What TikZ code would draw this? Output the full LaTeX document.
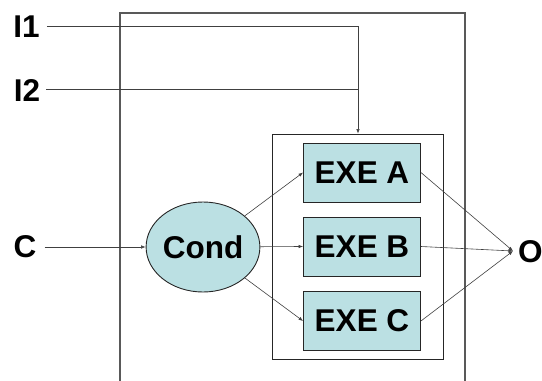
\documentclass[tikz,border=0pt]{standalone}
\usepackage{fontspec}
\setmainfont{Liberation Sans}
\usetikzlibrary{arrows.meta,shapes.geometric}
\definecolor{boxfill}{RGB}{187,224,227}
\begin{document}
\begin{tikzpicture}[x=1pt,y=-1pt,
  bigtext/.style={font=\bfseries\fontsize{31.5}{32}\selectfont},
  lbl/.style={bigtext, inner sep=0pt},
  exebox/.style={bigtext, draw=black!85, line width=0.9pt, fill=boxfill, minimum width=117pt, minimum height=59pt, inner sep=0pt},
  condnode/.style={bigtext, ellipse, draw=black!85, line width=0.9pt, fill=boxfill, minimum width=112pt, minimum height=90pt, inner sep=0pt},
  wire/.style={draw=black!75, line width=0.6pt},
  arr/.style={wire, -{Latex[length=4.5pt,width=3.5pt]}}
]
\useasboundingbox (0,0) rectangle (542,381);

% outer frame, open at the bottom
\draw[draw=black!65, line width=1.1pt] (120,381) -- (120,13) -- (465,13) -- (465,381);

% group box around the executors
\node[draw=black!85, line width=0.9pt, minimum width=171pt, minimum height=225pt, inner sep=0pt] (grp) at (357.5,246.5) {};

% executors and condition
\node[exebox] (A) at (362,172.5) {EXE A};
\node[exebox] (B) at (362,246.5) {EXE B};
\node[exebox] (Cx) at (362,321) {EXE C};
\node[condnode] (cond) at (203,247) {Cond};

% inputs and output labels
\node[lbl] (i1) at (26.5,27) {I1};
\node[lbl] (i2) at (27,90) {I2};
\node[lbl] (c) at (25,247) {C};
\node[lbl, anchor=west] (o) at (518,252) {O};
\coordinate (join) at (358,26);
\coordinate (join2) at (358,89);
\coordinate (out) at (513,251);

% inputs
\draw[wire] ([xshift=7pt]i1.east |- join) -- (join) -- (join2);
\draw[wire] ([xshift=6pt]i2.east |- join2) -- (join2);
\draw[arr] (join2) -- (join2 |- grp.north);
\draw[arr] ([xshift=8pt]c.east |- cond) -- (cond.west);

% condition to executors
\draw[arr] (cond) -- (A.west);
\draw[arr] (cond) -- (B.west);
\draw[arr] (cond) -- (Cx.west);

% executors to output
\draw[arr] (A.east) -- (out);
\draw[arr] (B.east) -- (out);
\draw[arr] (Cx.east) -- (out);
\end{tikzpicture}
\end{document}
